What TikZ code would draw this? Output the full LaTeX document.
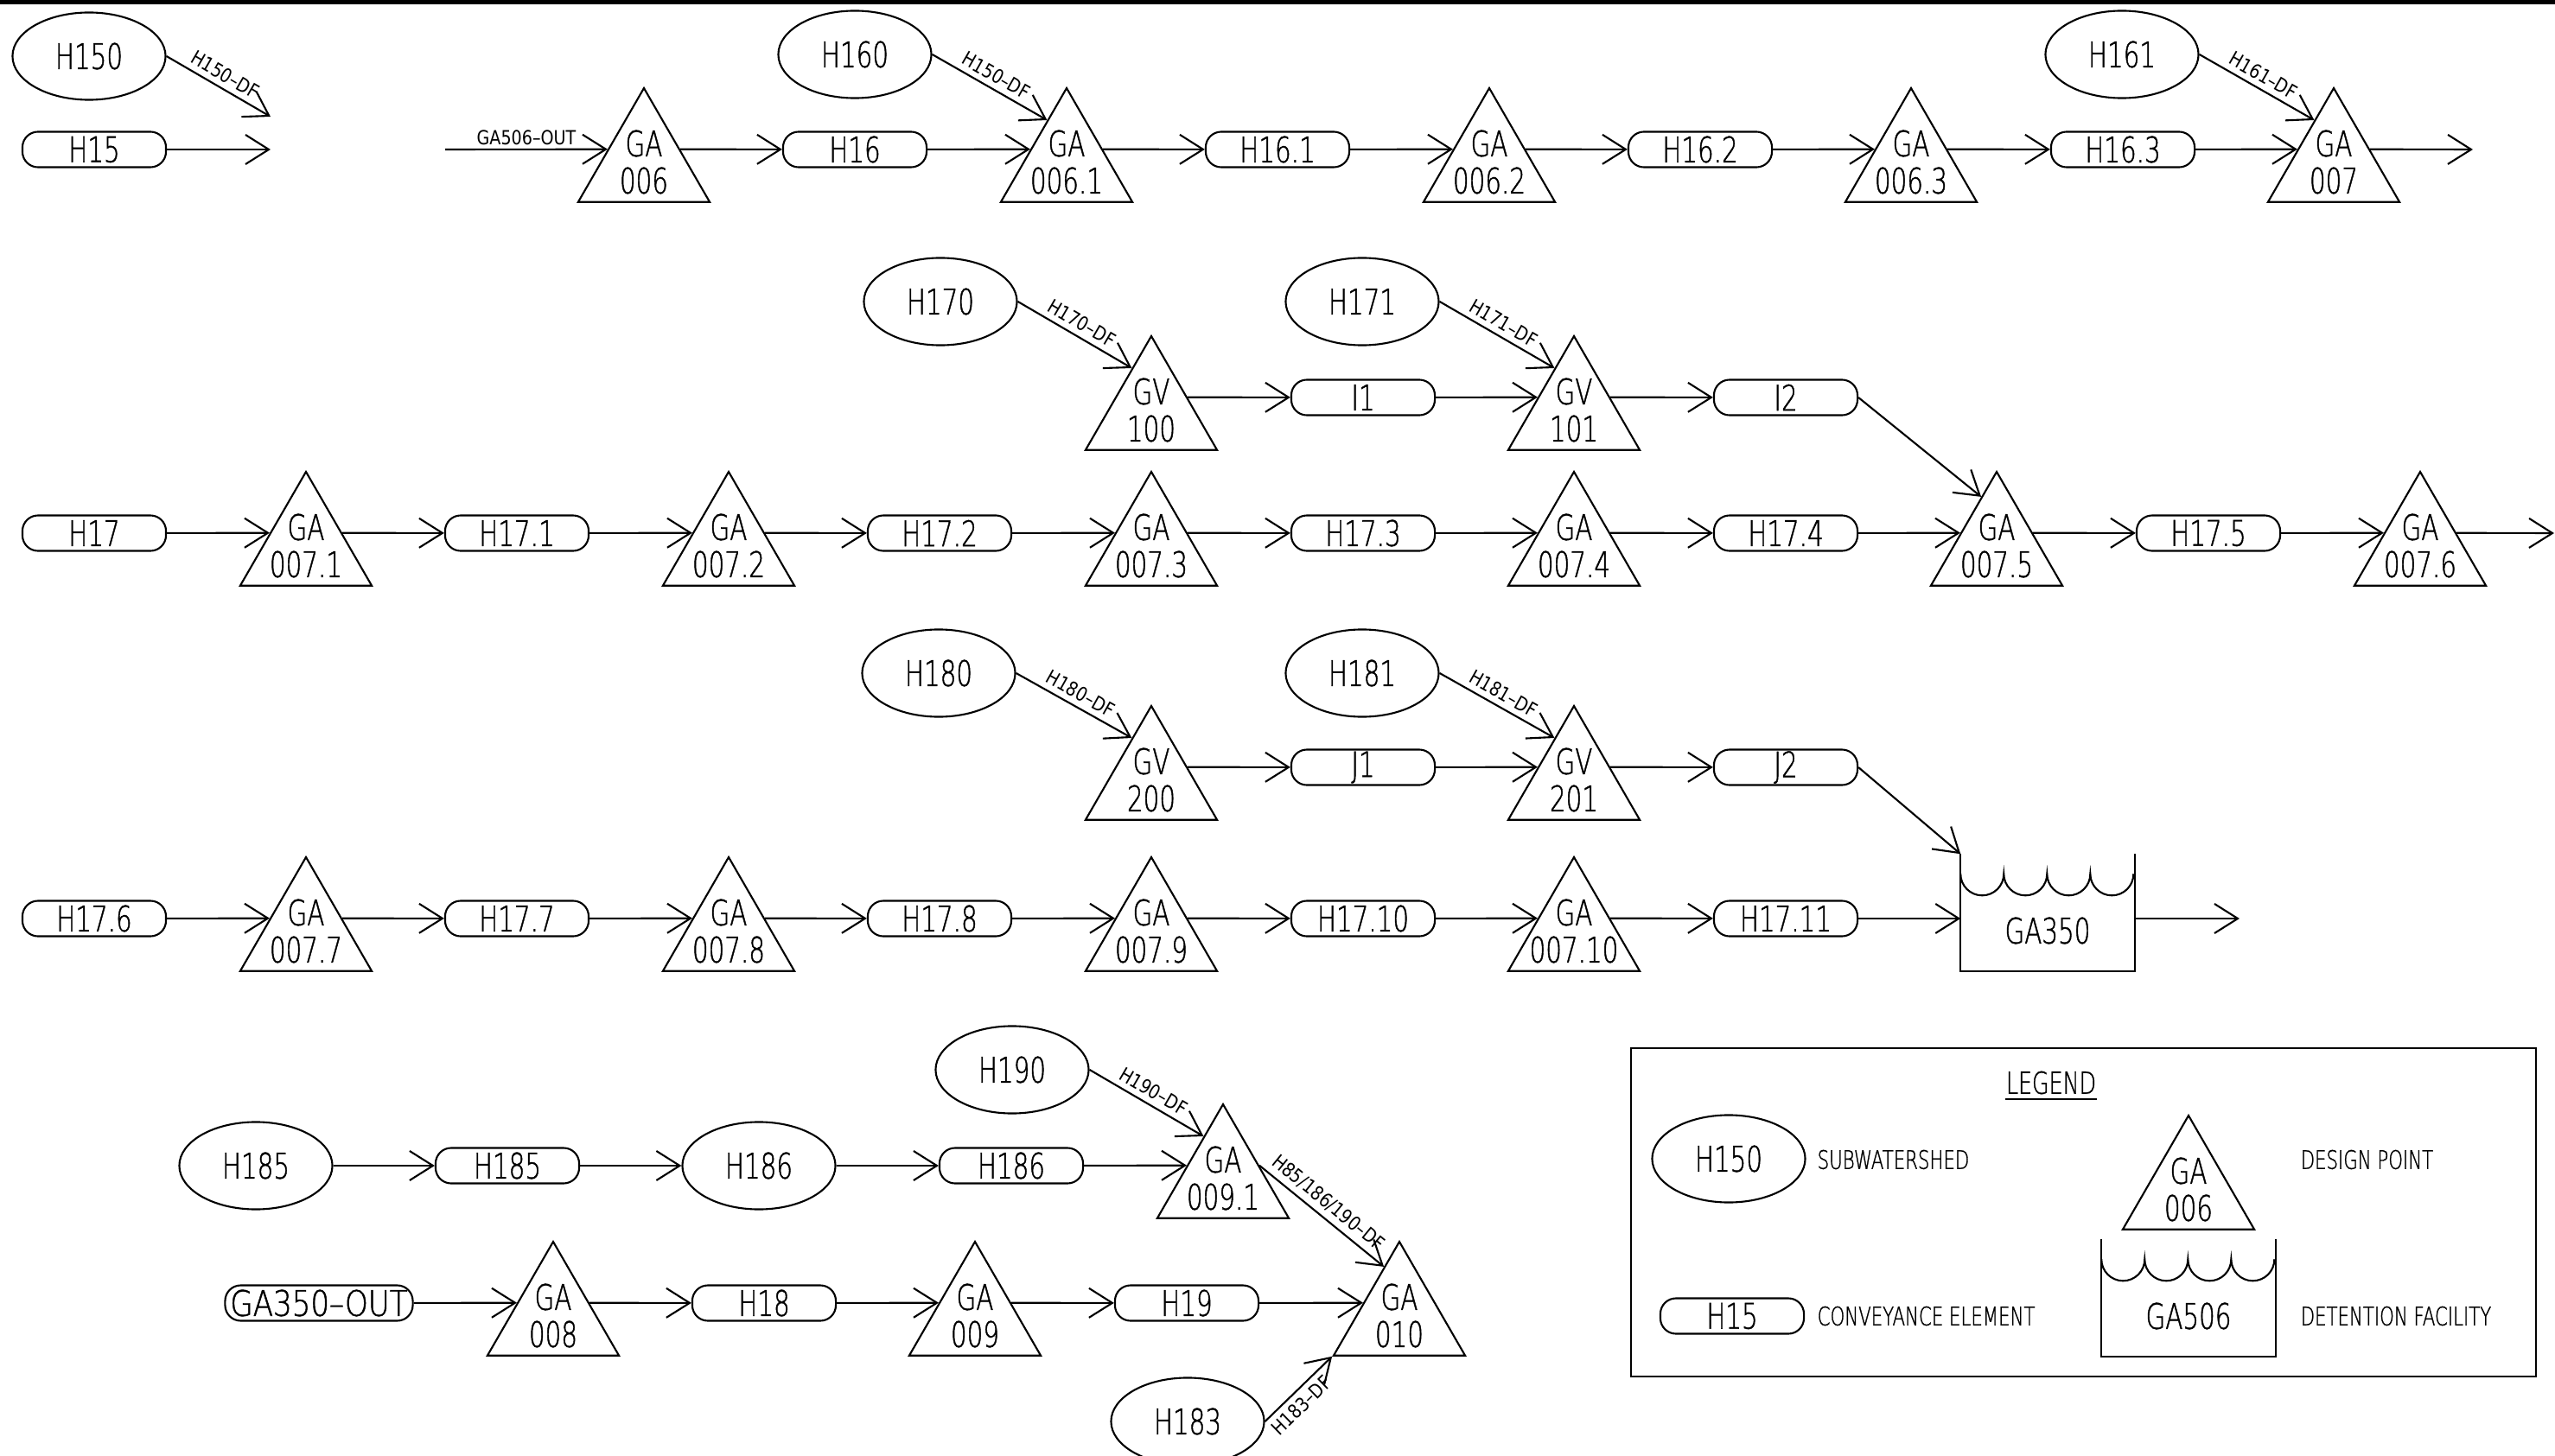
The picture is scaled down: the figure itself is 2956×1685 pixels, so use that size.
\documentclass[tikz,border=0pt]{standalone}
\usepackage{fontspec}
\usetikzlibrary{shapes.geometric,arrows.meta,calc}
\newfontfamily\cadfontA{DejaVuSans-ExtraLight.ttf}[FakeStretch=0.72,FakeBold=1]
\newfontfamily\cadfontB{DejaVu Sans}[FakeStretch=0.85]
\newcommand\cadmain{\cadfontA\fontsize{11.6}{13}\selectfont}
\newcommand\caddesc{\cadfontA\fontsize{8.4}{10}\selectfont}
\newcommand\cadleg{\cadfontA\fontsize{10}{11}\selectfont}
\newcommand\cadsmall{\cadfontB\fontsize{6.4}{7}\selectfont}
\tikzset{
  ln/.style={line width=0.6pt},
  arr/.style={line width=0.6pt,-{Straight Barb[length=0.27cm,width=0.34cm,line width=0.6pt]}},
  sub/.style={ellipse,draw,line width=0.6pt,minimum width=1.77cm,minimum height=1.01cm,inner sep=0pt,font=\cadmain},
  conv/.style={rectangle,rounded corners=0.18cm,draw,line width=0.6pt,minimum width=1.66cm,minimum height=0.41cm,inner sep=0pt,font=\cadmain},
  tri/.style={regular polygon,regular polygon sides=3,draw,line width=0.6pt,minimum size=1.755cm,inner sep=0pt},
  txt/.style={inner sep=0pt,font=\cadmain},
  desc/.style={anchor=west,inner sep=0pt,font=\caddesc},
  dflbl/.style={font=\cadsmall,inner sep=1.8pt,sloped},
  lblh/.style={font=\cadsmall,inner sep=1.2pt,above},
  dfbox/.style={rectangle,minimum width=2cm,minimum height=1.34cm,inner sep=0pt},
}
% design point: name, x, row y, line 1, line 2
\newcommand\dpt[5]{%
  \node[tri] (#1) at (#2,#3+16.8) {};
  \node[txt] (#1-a) at (#2,#3-7) {#4};
  \node[txt] (#1-b) at (#2,#3+36) {#5};
  \coordinate (#1-in) at ($(#1.corner 1)!0.54!(#1.corner 2)$);
  \coordinate (#1-out) at ($(#1.corner 1)!0.54!(#1.corner 3)$);
  \coordinate (#1-df) at ($(#1.corner 1)!0.29!(#1.corner 2)$);
  \coordinate (#1-dfb) at ($(#1.corner 1)!0.23!(#1.corner 2)$);
}
% detention facility: name, centre x, top y, text
\newcommand\detfac[4]{%
  \node[dfbox] (#1) at (#2,#3+67) {};
  \draw[ln] (#1.north west) -- (#1.south west) -- (#1.south east) -- (#1.north east);
  \draw[ln] ([yshift=-0.23cm]#1.north west)
    arc[start angle=180,end angle=360,radius=0.25cm]
    arc[start angle=180,end angle=360,radius=0.25cm]
    arc[start angle=180,end angle=360,radius=0.25cm]
    arc[start angle=180,end angle=360,radius=0.25cm];
  \node[txt] (#1-t) at (#2,#3+88) {#4};
}
\begin{document}
\begin{tikzpicture}[x=0.01cm,y=-0.01cm]
\fill[white] (0,0) rectangle (2956,1685);
\useasboundingbox (0,0) rectangle (2956,1685);
\fill[black] (0,0) rectangle (2956,5);

% ---------------- Row 1
\node[sub] (s150) at (103,65) {H150};
\node[conv] (c15) at (109,173) {H15};
\coordinate (e15) at (313,173);
\coordinate (e150) at (313,135);
\draw[arr] (c15) -- (e15);
\draw[arr] (s150.east) -- node[dflbl,above]{H150–DF} (e150);

\coordinate (g506) at (515,173);
\dpt{t006}{745}{173}{GA}{006}
\draw[arr] (g506) -- node[lblh]{GA506–OUT} (t006-in);
\node[conv] (c16) at (989,173) {H16};
\draw[arr] (t006-out) -- (c16);
\dpt{t0061}{1234}{173}{GA}{006.1}
\draw[arr] (c16) -- (t0061-in);
\node[sub] (s160) at (989,63) {H160};
\draw[arr] (s160.east) -- node[dflbl,above]{H150–DF} (t0061-df);
\node[conv] (c161) at (1478,173) {H16.1};
\draw[arr] (t0061-out) -- (c161);
\dpt{t0062}{1723}{173}{GA}{006.2}
\draw[arr] (c161) -- (t0062-in);
\node[conv] (c162) at (1967,173) {H16.2};
\draw[arr] (t0062-out) -- (c162);
\dpt{t0063}{2211}{173}{GA}{006.3}
\draw[arr] (c162) -- (t0063-in);
\node[conv] (c163) at (2456,173) {H16.3};
\draw[arr] (t0063-out) -- (c163);
\dpt{t007}{2700}{173}{GA}{007}
\draw[arr] (c163) -- (t007-in);
\node[sub] (s161) at (2455,63) {H161};
\draw[arr] (s161.east) -- node[dflbl,above]{H161–DF} (t007-df);
\coordinate (e007) at (2861,173);
\draw[arr] (t007-out) -- (e007);

% ---------------- Row 2 (upper branch)
\node[sub] (s170) at (1088,349) {H170};
\dpt{tgv100}{1332}{460}{GV}{100}
\draw[arr] (s170.east) -- node[dflbl,above]{H170–DF} (tgv100-df);
\node[conv] (cI1) at (1577,460) {I1};
\draw[arr] (tgv100-out) -- (cI1);
\dpt{tgv101}{1821}{460}{GV}{101}
\draw[arr] (cI1) -- (tgv101-in);
\node[sub] (s171) at (1576,349) {H171};
\draw[arr] (s171.east) -- node[dflbl,above]{H171–DF} (tgv101-df);
\node[conv] (cI2) at (2066,460) {I2};
\draw[arr] (tgv101-out) -- (cI2);

% ---------------- Row 2 (main)
\node[conv] (c17) at (109,617) {H17};
\dpt{t0071}{354}{617}{GA}{007.1}
\draw[arr] (c17) -- (t0071-in);
\node[conv] (c171) at (598,617) {H17.1};
\draw[arr] (t0071-out) -- (c171);
\dpt{t0072}{843}{617}{GA}{007.2}
\draw[arr] (c171) -- (t0072-in);
\node[conv] (c172) at (1087,617) {H17.2};
\draw[arr] (t0072-out) -- (c172);
\dpt{t0073}{1332}{617}{GA}{007.3}
\draw[arr] (c172) -- (t0073-in);
\node[conv] (c173) at (1577,617) {H17.3};
\draw[arr] (t0073-out) -- (c173);
\dpt{t0074}{1821}{617}{GA}{007.4}
\draw[arr] (c173) -- (t0074-in);
\node[conv] (c174) at (2066,617) {H17.4};
\draw[arr] (t0074-out) -- (c174);
\dpt{t0075}{2310}{617}{GA}{007.5}
\draw[arr] (c174) -- (t0075-in);
\draw[arr] (cI2.east) -- (t0075-dfb);
\node[conv] (c175) at (2555,617) {H17.5};
\draw[arr] (t0075-out) -- (c175);
\dpt{t0076}{2800}{617}{GA}{007.6}
\draw[arr] (c175) -- (t0076-in);
\coordinate (e0076) at (2955,617);
\draw[arr] (t0076-out) -- (e0076);

% ---------------- Row 3 (upper branch)
\node[sub] (s180) at (1086,779) {H180};
\dpt{tgv200}{1332}{888}{GV}{200}
\draw[arr] (s180.east) -- node[dflbl,above]{H180–DF} (tgv200-df);
\node[conv] (cJ1) at (1577,888) {J1};
\draw[arr] (tgv200-out) -- (cJ1);
\dpt{tgv201}{1821}{888}{GV}{201}
\draw[arr] (cJ1) -- (tgv201-in);
\node[sub] (s181) at (1576,779) {H181};
\draw[arr] (s181.east) -- node[dflbl,above]{H181–DF} (tgv201-df);
\node[conv] (cJ2) at (2066,888) {J2};
\draw[arr] (tgv201-out) -- (cJ2);

% ---------------- Row 3 (main)
\node[conv] (c176) at (109,1063) {H17.6};
\dpt{t0077}{354}{1063}{GA}{007.7}
\draw[arr] (c176) -- (t0077-in);
\node[conv] (c177) at (598,1063) {H17.7};
\draw[arr] (t0077-out) -- (c177);
\dpt{t0078}{843}{1063}{GA}{007.8}
\draw[arr] (c177) -- (t0078-in);
\node[conv] (c178) at (1087,1063) {H17.8};
\draw[arr] (t0078-out) -- (c178);
\dpt{t0079}{1332}{1063}{GA}{007.9}
\draw[arr] (c178) -- (t0079-in);
\node[conv] (c1710) at (1577,1063) {H17.10};
\draw[arr] (t0079-out) -- (c1710);
\dpt{t00710}{1821}{1063}{GA}{007.10}
\draw[arr] (c1710) -- (t00710-in);
\node[conv] (c1711) at (2066,1063) {H17.11};
\draw[arr] (t00710-out) -- (c1711);
\detfac{ga350}{2369}{989}{GA350}
\draw[arr] (c1711) -- (c1711 -| ga350.west);
\draw[arr] (cJ2.east) -- (ga350.north west);
\coordinate (e350) at (2591,1063);
\draw[arr] (ga350.east |- c1711.east) -- (e350);

% ---------------- Row 4 (upper)
\node[sub] (s185) at (296,1349) {H185};
\node[conv] (c185) at (587,1349) {H185};
\draw[arr] (s185) -- (c185);
\node[sub] (s186) at (878,1349) {H186};
\draw[arr] (c185) -- (s186);
\node[conv] (c186) at (1170,1349) {H186};
\draw[arr] (s186) -- (c186);
\dpt{t0091}{1415}{1349}{GA}{009.1}
\draw[arr] (c186) -- (t0091-in);
\node[sub] (s190) at (1171,1238) {H190};
\draw[arr] (s190.east) -- node[dflbl,above]{H190–DF} (t0091-df);

% ---------------- Row 4 (lower)
\node[conv,minimum width=2.17cm] (cga350) at (369,1508) {\scalebox{1.16}[1]{GA350–OUT}};
\dpt{t008}{640}{1508}{GA}{008}
\draw[arr] (cga350) -- (t008-in);
\node[conv] (c18) at (884,1508) {H18};
\draw[arr] (t008-out) -- (c18);
\dpt{t009}{1128}{1508}{GA}{009}
\draw[arr] (c18) -- (t009-in);
\node[conv] (c19) at (1373,1508) {H19};
\draw[arr] (t009-out) -- (c19);
\dpt{t010}{1619}{1508}{GA}{010}
\draw[arr] (c19) -- (t010-in);
\draw[arr] (t0091-out) -- node[dflbl,above,pos=0.48]{H85/186/190–DF} (t010-dfb);
\node[sub] (s183) at (1374,1645) {H183};
\draw[arr] (s183.east) -- node[dflbl,below,pos=0.4]{H183–DF} (t010.corner 2);

% ---------------- Legend
\node[draw,line width=0.6pt,minimum width=10.47cm,minimum height=3.8cm,inner sep=0pt] (legbox) at (2410.5,1403) {};
\node[inner sep=0pt,font=\cadleg] (legt) at (2373,1253) {LEGEND};
\draw[ln] ([yshift=-0.05cm]legt.south west) -- ([yshift=-0.05cm]legt.south east);
\node[sub] (ls150) at (2000,1341) {H150};
\node[desc] (lsd) at (2102,1342) {SUBWATERSHED};
\dpt{lt006}{2532}{1362}{GA}{006}
\node[desc] (ltd) at (2661,1342) {DESIGN POINT};
\node[conv] (lc15) at (2004,1523) {H15};
\node[desc] (lcd) at (2102,1523) {CONVEYANCE ELEMENT};
\detfac{ldf}{2532}{1435}{GA506}
\node[desc] (ldd) at (2661,1523) {DETENTION FACILITY};
\end{tikzpicture}
\end{document}
